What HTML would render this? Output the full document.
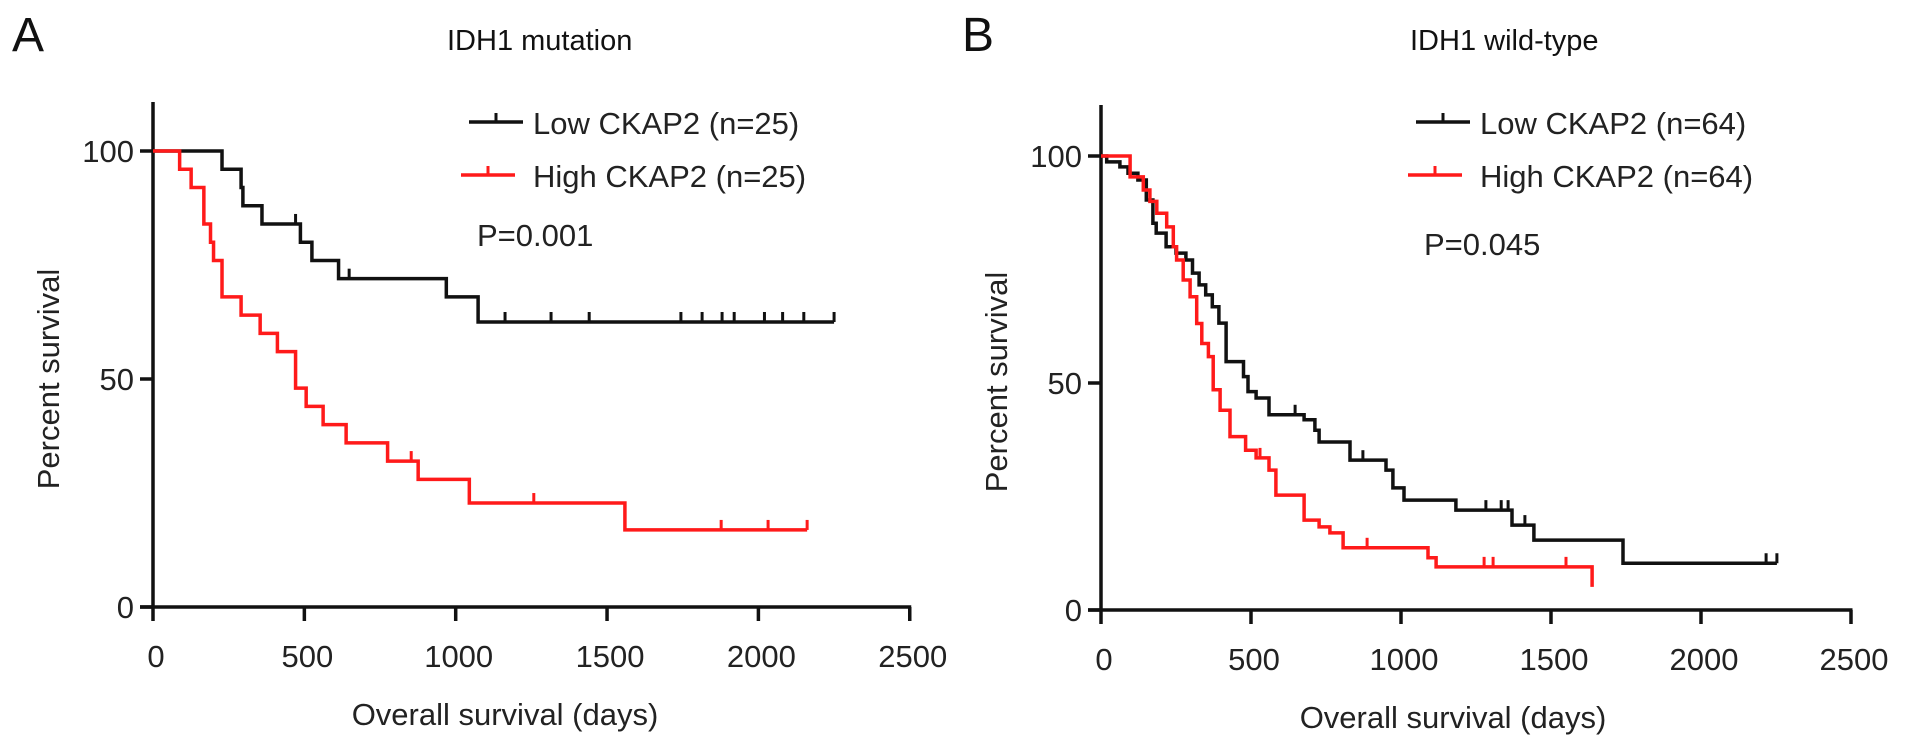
<!DOCTYPE html>
<html><head><meta charset="utf-8"><style>
html,body{margin:0;padding:0;background:#fff;}
svg{display:block;font-family:"Liberation Sans",Arial,sans-serif;}
</style></head><body>
<svg id="fig" width="1913" height="747" viewBox="0 0 1913 747"></svg>
<script>
// ---- Panel A data (IDH1 mutation) ----
const aLowTimes = [228, 291, 297, 360, 487, 525, 613, 969, 1074];
const aLowSurv  = [96, 92, 88, 84, 80, 76, 72, 68, 62.5];
const aLowCens  = [471, 648, 1163, 1315, 1441, 1744, 1814, 1880, 1920, 2020, 2080, 2150, 2250];
const aLowEnd = 2250;
const aHighTimes = [88, 126, 168, 190, 200, 228, 291, 354, 411, 471, 506, 562, 638, 775, 876, 1045, 1559];
const aHighSurv  = [96, 92, 84, 80, 76, 68, 64, 60, 56, 48, 44, 40, 36, 32, 28, 22.8, 16.9];
const aHighCens  = [853, 1258, 1877, 2032, 2161];
const aHighEnd = 2161;
// ---- Panel B data (IDH1 wild-type) ----
const bLowTimes = [19, 63, 90, 123, 151, 173, 184, 217, 250, 283, 305, 327, 349, 371, 393, 417, 475, 490, 517, 560, 677, 713, 727, 830, 950, 973, 1010, 1183, 1370, 1443, 1740];
const bLowSurv  = [98.7, 97.6, 96.2, 94.7, 90.3, 85.2, 83, 80, 78.6, 77.1, 74.2, 71.6, 69.4, 66.8, 63.2, 54.7, 51.4, 48.1, 46.7, 43, 41.9, 39.6, 37, 33, 30.8, 26.9, 24.2, 22, 18.7, 15.4, 10.3];
const bLowCens  = [647, 873, 1283, 1334, 1357, 1413, 2217, 2253];
const bLowEnd = 2253;
const bHighTimes = [97, 141, 163, 186, 219, 241, 252, 274, 297, 319, 336, 358, 374, 397, 430, 482, 517, 560, 583, 677, 727, 763, 807, 1090, 1117, 1637];
const bHighSurv  = [95.4, 92.5, 90, 87.4, 84.4, 80, 77.1, 72.7, 69, 63.1, 58.7, 55.8, 48.5, 44, 38.2, 35.2, 33.5, 30.8, 25.3, 19.8, 18.3, 17, 13.7, 11.5, 9.5, 5.1];
const bHighCens  = [530, 887, 1277, 1307, 1550];
const bHighEnd = 1637;
const xTicks = [0, 500, 1000, 1500, 2000, 2500];
const yTicks = [0, 50, 100];

const NS = "http://www.w3.org/2000/svg";
const svg = document.getElementById("fig");
function mk(tag, attrs, parent) {
  const e = document.createElementNS(NS, tag);
  for (const k in attrs) e.setAttribute(k, attrs[k]);
  (parent || svg).appendChild(e);
  return e;
}
function txt(str, attrs, parent) { const t = mk("text", attrs, parent); t.textContent = str; return t; }

function panel(cfg) {
  const g = mk("g", {});
  
  
  const X = d => cfg.x0 + d * cfg.sx;
  const Y = p => cfg.y0 - p * cfg.sy;
  const L = txt(cfg.letter, {x: cfg.letterX, y: 51, "font-size": 48, fill: "#111"}, g);
  
  
  const T = txt(cfg.title, {x: cfg.titleX, y: 50, "font-size": 29, fill: "#111"}, g);
  
  
  const ya = mk("line", {x1: cfg.x0, y1: cfg.y0 - 505, x2: cfg.x0, y2: cfg.y0 + 1, stroke: "#111", "stroke-width": 3.5}, g);
  
  
  const xa = mk("line", {x1: cfg.x0 - 13, y1: cfg.y0, x2: X(2500) + 1.5, y2: cfg.y0, stroke: "#111", "stroke-width": 3.5}, g);
  
  
  yTicks.forEach(v => {
    mk("line", {x1: cfg.x0 - 13, y1: Y(v), x2: cfg.x0, y2: Y(v), stroke: "#111", "stroke-width": 3.5}, g);
    const t = txt(String(v), {x: cfg.x0 - 19, y: Y(v) + 11, "font-size": 31, "text-anchor": "end", fill: "#222"}, g);
    
    
  });
  xTicks.forEach(v => {
    mk("line", {x1: X(v), y1: cfg.y0, x2: X(v), y2: cfg.y0 + 14, stroke: "#111", "stroke-width": 3.5}, g);
    const t = txt(String(v), {x: X(v) + 3, y: cfg.y0 + 60, "font-size": 31, "text-anchor": "middle", fill: "#222"}, g);
    
    
  });
  const xt = txt("Overall survival (days)", {x: cfg.x0 + 352, y: cfg.y0 + 118, "font-size": 31, "text-anchor": "middle", fill: "#222"}, g);
  
  
  const yt = txt("Percent survival", {x: 0, y: 0, "font-size": 31, "text-anchor": "middle", fill: "#222", transform: `translate(${cfg.x0 - 94},${cfg.y0 - 228}) rotate(-90)`}, g);
  
  
  function curve(times, surv, cens, end, color, nm) {
    let d = `M${X(0)},${Y(100)}`;
    for (let i = 0; i < times.length; i++) {
      d += ` H${X(times[i])} V${Y(surv[i])}`;
    }
    d += ` H${X(end)}`;
    const p = mk("path", {d: d, fill: "none", stroke: color, "stroke-width": 3.5}, g);
    
    
    cens.forEach(c => {
      let s = 100;
      for (let i = 0; i < times.length; i++) if (times[i] <= c) s = surv[i];
      const m = mk("line", {x1: X(c), y1: Y(s), x2: X(c), y2: Y(s) - 10, stroke: color, "stroke-width": 3}, g);
      
      
    });
  }
  curve(cfg.lowT, cfg.lowS, cfg.lowC, cfg.lowE, "#111", "low-ckap2-curve");
  curve(cfg.highT, cfg.highS, cfg.highC, cfg.highE, "#ff1a1a", "high-ckap2-curve");
  const lx = cfg.legX;
  const le1 = mk("g", {}, g);
  
  
  mk("line", {x1: lx, y1: 122, x2: lx + 54, y2: 122, stroke: "#111", "stroke-width": 3.5}, le1);
  mk("line", {x1: lx + 27, y1: 122, x2: lx + 27, y2: 113, stroke: "#111", "stroke-width": 3}, le1);
  txt(cfg.lowLabel, {x: lx + 64, y: 134, "font-size": 31, fill: "#222"}, le1);
  const le2 = mk("g", {}, g);
  
  
  mk("line", {x1: lx - 8, y1: 175, x2: lx + 46, y2: 175, stroke: "#ff1a1a", "stroke-width": 3.5}, le2);
  mk("line", {x1: lx + 19, y1: 175, x2: lx + 19, y2: 166, stroke: "#ff1a1a", "stroke-width": 3}, le2);
  txt(cfg.highLabel, {x: lx + 64, y: 187, "font-size": 31, fill: "#222"}, le2);
  const pv = txt(cfg.pText, {x: lx + 8, y: cfg.pY, "font-size": 31, fill: "#222"}, g);
  
  
}

panel({name: "panel-a", letter: "A", letterX: 12, title: "IDH1 mutation", titleX: 447,
  x0: 153, y0: 607, sx: 0.3027, sy: 4.56, legX: 469,
  lowT: aLowTimes, lowS: aLowSurv, lowC: aLowCens, lowE: aLowEnd,
  highT: aHighTimes, highS: aHighSurv, highC: aHighCens, highE: aHighEnd,
  lowLabel: "Low CKAP2 (n=25)", highLabel: "High CKAP2 (n=25)", pText: "P=0.001", pY: 246});
panel({name: "panel-b", letter: "B", letterX: 962, title: "IDH1 wild-type", titleX: 1410,
  x0: 1101, y0: 610, sx: 0.3, sy: 4.54, legX: 1416,
  lowT: bLowTimes, lowS: bLowSurv, lowC: bLowCens, lowE: bLowEnd,
  highT: bHighTimes, highS: bHighSurv, highC: bHighCens, highE: bHighEnd,
  lowLabel: "Low CKAP2 (n=64)", highLabel: "High CKAP2 (n=64)", pText: "P=0.045", pY: 255});
</script>
</body></html>
